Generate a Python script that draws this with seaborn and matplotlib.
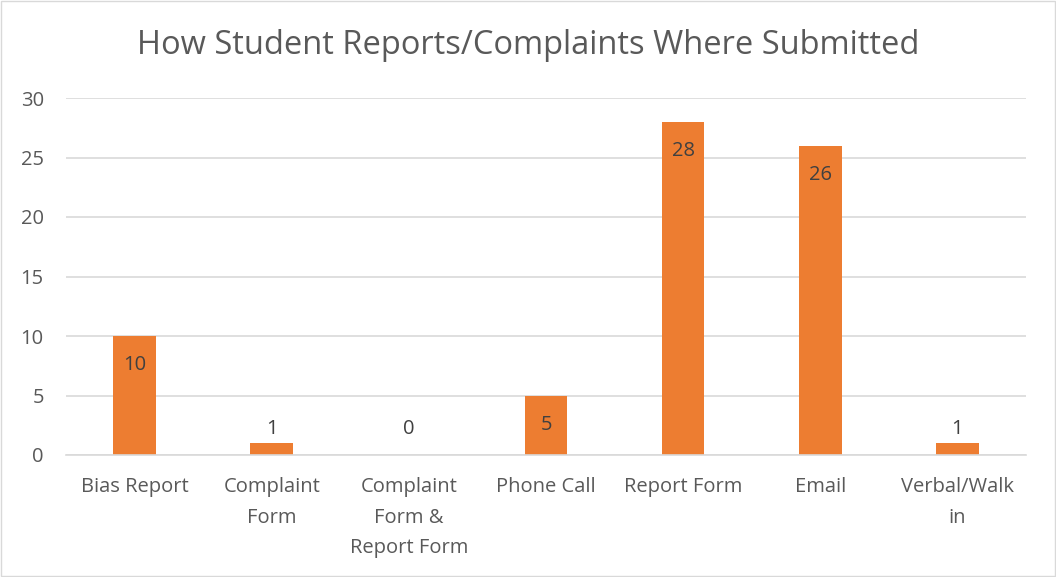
import matplotlib
matplotlib.use("Agg")
import matplotlib.pyplot as plt
import seaborn as sns
import pandas as pd

categories = ["Bias Report", "Complaint\nForm", "Complaint\nForm &\nReport Form",
              "Phone Call", "Report Form", "Email", "Verbal/Walk\nin"]
counts = [10, 1, 0, 5, 28, 26, 1]

sns.set_style("white")
plt.rcParams['font.family'] = ['Open Sans', 'DejaVu Sans']

text_col = "#595959"
label_col = "#404040"
bar_col = "#ED7D31"

df = pd.DataFrame({"how": categories, "n": counts})

fig = plt.figure(figsize=(10.56, 5.77), dpi=100)
ax = fig.add_axes([66 / 1056, 1 - 455 / 577, 960 / 1056, 357 / 577])

sns.barplot(data=df, x="how", y="n", color=bar_col, width=0.31, saturation=1,
            linewidth=0, ax=ax)

ax.set_ylim(0, 30)
ax.set_yticks(range(0, 31, 5))
ax.yaxis.grid(True, color="#D9D9D9", linewidth=1.2)
ax.set_axisbelow(True)
for s in ["top", "right", "left"]:
    ax.spines[s].set_visible(False)
ax.spines["bottom"].set_color("#D9D9D9")
ax.spines["bottom"].set_linewidth(1.2)
ax.tick_params(axis="both", length=0, labelsize=14.5, colors=text_col)
ax.tick_params(axis="y", pad=16)
ax.tick_params(axis="x", pad=16)
ax.set_xlabel("")
ax.set_ylabel("")
for lbl in ax.get_xticklabels():
    lbl.set_linespacing(1.7)

# data labels: inside end for tall bars, outside for short ones
for i, v in enumerate(counts):
    if v >= 5:
        ax.annotate(str(v), (i, v), xytext=(0, -29), textcoords="offset pixels",
                    ha="center", va="center", fontsize=14.5, color=label_col)
    else:
        ax.annotate(str(v), (i, max(v, 1)), xytext=(0, 14), textcoords="offset pixels",
                    ha="center", va="center", fontsize=14.5, color=label_col)

fig.text(0.5, 1 - 45 / 577, "How Student Reports/Complaints Where Submitted",
         ha="center", va="center", fontsize=23.5, color=text_col)

# chart border
fig.patches.append(plt.Rectangle((0.001, 0.001), 0.998, 0.998, transform=fig.transFigure,
                                 fill=False, edgecolor="#D9D9D9", linewidth=1))

fig.savefig("out.png", dpi=100)
